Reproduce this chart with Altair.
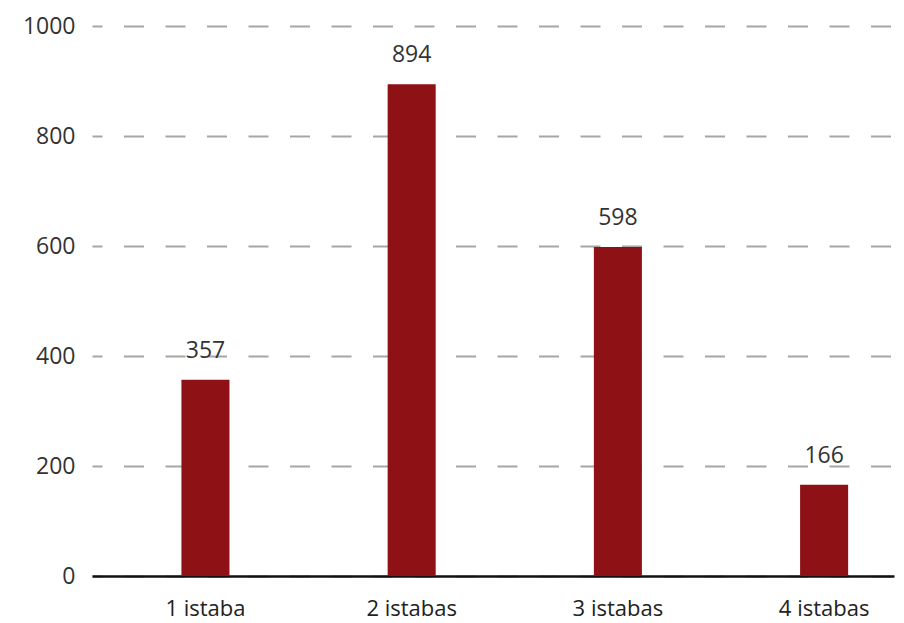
import altair as alt
import pandas as pd

categories = ["1 istaba", "2 istabas", "3 istabas", "4 istabas"]
values = [357, 894, 598, 166]
y_ticks = [0, 200, 400, 600, 800, 1000]

df = pd.DataFrame({"cat": categories, "val": values})

FONT = "Open Sans"

x = alt.X(
    "cat:N", sort=categories, title=None,
    scale=alt.Scale(paddingInner=0.767, paddingOuter=0.328, align=0.661),
    axis=alt.Axis(labelAngle=0, ticks=False, domain=True, domainColor="#111111",
                  domainWidth=2.5, labelFontSize=22, labelColor="#222222",
                  labelPadding=22, labelFont=FONT, grid=False),
)
y = alt.Y(
    "val:Q", title=None,
    scale=alt.Scale(domain=[0, 1000], nice=False),
    axis=alt.Axis(values=y_ticks, format="d", ticks=False, domain=False, grid=True,
                  gridColor="#a6a6a6", gridWidth=2, gridDash=[20, 21.5],
                  gridDashOffset=10, labelFontSize=23, labelColor="#333333",
                  labelPadding=17, labelFont=FONT),
)

base = alt.Chart(df).encode(x=x, y=y)
bars = base.mark_bar(color="#8e1116")
labels = base.mark_text(baseline="alphabetic", dy=-22, fontSize=23,
                        color="#333333", font=FONT).encode(text="val:Q")

chart = (
    alt.layer(bars, labels)
    .properties(width=802, height=550, autosize=alt.AutoSizeParams(type="none"),
                padding={"left": 84, "top": 18, "right": 2, "bottom": 47})
    .configure_view(stroke=None)
)

chart.save("out.html", embed_options={"renderer": "svg", "actions": False})
